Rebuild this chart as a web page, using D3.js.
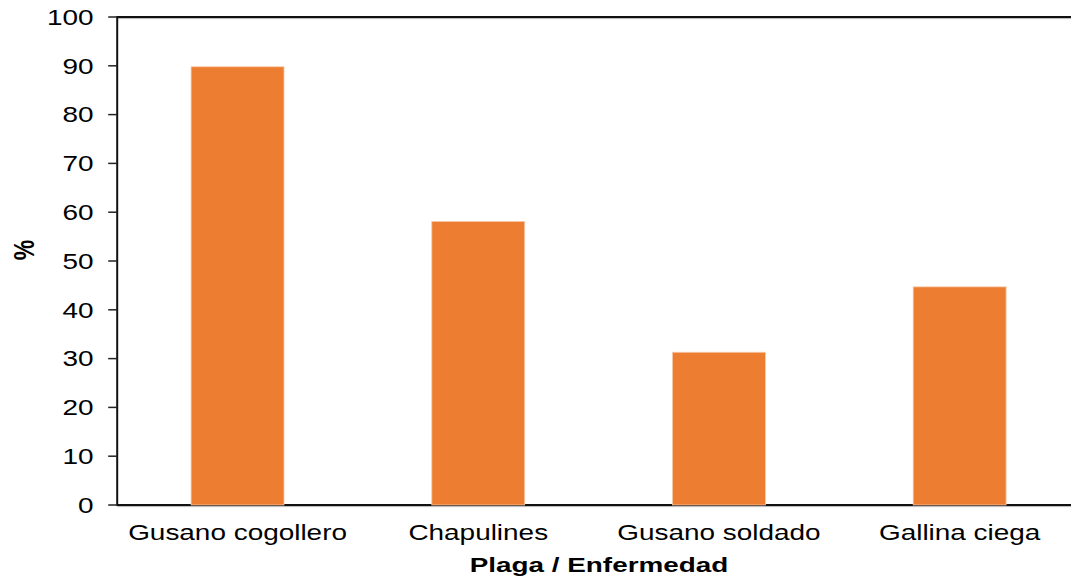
<!DOCTYPE html>
<html>
<head>
<meta charset="utf-8">
<script src="https://cdn.jsdelivr.net/npm/d3@7"></script>
<style>
  html, body { margin: 0; padding: 0; background: #ffffff; }
  svg { display: block; }
  text { font-family: "Liberation Sans", Arial, sans-serif; fill: #000; }
</style>
</head>
<body>
<div id="chart"></div>
<script>
// Pest / disease incidence (%)
const categories = ["Gusano cogollero", "Chapulines", "Gusano soldado", "Gallina ciega"];
const values = [89.8, 58.1, 31.3, 44.7];
const yTicks = [0, 10, 20, 30, 40, 50, 60, 70, 80, 90, 100];
const xTitle = "Plaga / Enfermedad";
const yTitle = "%";

const W = 1071, H = 579;
const plotLeft = 117.2, plotTop = 17, plotBottom = 505, bandRight = 1080;
const sx = 1.27; // horizontal stretch of the text

const svg = d3.select("#chart").append("svg")
  .attr("width", W).attr("height", H);

const x = d3.scaleBand()
  .domain(categories)
  .range([plotLeft, bandRight])
  .paddingInner(0.614)
  .paddingOuter(0.307);

const y = d3.scaleLinear().domain([0, 100]).range([plotBottom, plotTop]);

// frame lines (top and bottom run to the right edge)
const frame = svg.append("g");
[plotTop, plotBottom].forEach(yy => {
  frame.append("line").attr("x1", plotLeft).attr("x2", W).attr("y1", yy + 1.6).attr("y2", yy + 1.6)
    .attr("stroke", "#b8b8b8").attr("stroke-width", 1);
  frame.append("line").attr("x1", plotLeft).attr("x2", W).attr("y1", yy).attr("y2", yy)
    .attr("stroke", "#111").attr("stroke-width", 2);
});

// y axis ticks and labels
const yAxis = svg.append("g");
yAxis.append("line").attr("x1", plotLeft).attr("x2", plotLeft).attr("y1", plotTop - 1).attr("y2", plotBottom + 1)
  .attr("stroke", "#111").attr("stroke-width", 2);
yTicks.forEach(t => {
  yAxis.append("line")
    .attr("x1", plotLeft - 9).attr("x2", plotLeft).attr("y1", y(t)).attr("y2", y(t))
    .attr("stroke", "#222").attr("stroke-width", 1.5);
  yAxis.append("text")
    .attr("transform", `translate(${93.5},${y(t)}) scale(${sx},1)`)
    .attr("text-anchor", "end")
    .attr("dominant-baseline", "central")
    .attr("font-size", 22)
    .text(t);
});

// bars
svg.append("g").selectAll("rect")
  .data(categories)
  .join("rect")
  .attr("x", d => x(d))
  .attr("width", x.bandwidth())
  .attr("y", (d, i) => y(values[i]))
  .attr("height", (d, i) => y(0) - y(values[i]))
  .attr("fill", "#ED7D31")
  .attr("stroke", "#f7c9a8")
  .attr("stroke-width", 0.8);

// category labels
svg.append("g").selectAll("text")
  .data(categories)
  .join("text")
  .attr("transform", d => `translate(${x(d) + x.bandwidth() / 2},${532.5}) scale(${sx},1)`)
  .attr("text-anchor", "middle")
  .attr("dominant-baseline", "central")
  .attr("font-size", 22)
  .text(d => d);

// axis titles
svg.append("text")
  .attr("transform", `translate(${599},${565}) scale(1.36,1)`)
  .attr("text-anchor", "middle")
  .attr("dominant-baseline", "central")
  .attr("font-size", 20.5)
  .attr("font-weight", "bold")
  .text(xTitle);

svg.append("text")
  .attr("transform", `translate(${24},${250}) rotate(-90) scale(1,${sx})`)
  .attr("text-anchor", "middle")
  .attr("dominant-baseline", "central")
  .attr("font-size", 23)
  .attr("font-weight", "bold")
  .text(yTitle);
</script>
</body>
</html>
